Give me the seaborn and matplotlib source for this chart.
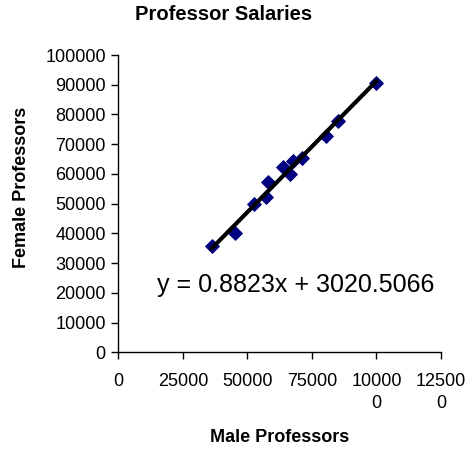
import matplotlib
matplotlib.use("Agg")
import matplotlib.pyplot as plt
import numpy as np
import pandas as pd
import seaborn as sns

# Salary pairs (male, female)
male = [36100, 45200, 52600, 57400, 58000, 63900, 66400, 67700, 71000, 80400, 85100, 100000]
female = [35600, 40100, 49800, 52400, 57400, 62200, 59900, 64200, 65500, 72600, 77900, 90600]

# Linear trendline
slope = 0.8823
intercept = 3020.5066

x_ticks = [0, 25000, 50000, 75000, 100000, 125000]
x_tick_labels = ["0", "25000", "50000", "75000", "10000\n0", "12500\n0"]
y_ticks = list(range(0, 100001, 10000))

sns.set_style("white")
plt.rcParams["font.family"] = ["Liberation Sans", "DejaVu Sans"]
plt.rcParams["text.color"] = "black"
plt.rcParams["xtick.color"] = "black"
plt.rcParams["ytick.color"] = "black"

fig = plt.figure(figsize=(4.74, 4.49), dpi=100)
ax = fig.add_axes([0.2496, 0.2154, 0.6808, 0.6621])

df = pd.DataFrame({"male": male, "female": female})
line_x = np.array([min(male), max(male)])
line_df = pd.DataFrame({"x": line_x, "y": slope * line_x + intercept})

sns.scatterplot(data=df, x="male", y="female", ax=ax, marker="D", s=48,
                color="#000080", edgecolor="#000080", linewidth=0.8, zorder=2)
sns.lineplot(data=line_df, x="x", y="y", ax=ax, color="black", linewidth=3,
             zorder=3)

ax.set_xlim(0, 125000)
ax.set_ylim(0, 100000)
ax.set_xticks(x_ticks)
ax.set_xticklabels(x_tick_labels, fontsize=13, linespacing=1.4,
                   color="black")
ax.set_yticks(y_ticks)
ax.set_yticklabels([str(v) for v in y_ticks], fontsize=13, color="black")
ax.tick_params(axis="both", direction="out", length=5, width=1, color="black",
               bottom=True, left=True)
ax.tick_params(axis="x", pad=10)
ax.tick_params(axis="y", pad=4)
for side in ["top", "right"]:
    ax.spines[side].set_visible(False)
for side in ["left", "bottom"]:
    ax.spines[side].set_color("black")
    ax.spines[side].set_linewidth(1)
ax.set_xlabel("")
ax.set_ylabel("")

ax.text(15000, 22700, f"y = {slope}x + {intercept}", fontsize=18,
        ha="left", va="center", color="black")

fig.text(224 / 474, 1 - 14 / 449, "Professor Salaries", fontsize=14.5,
         fontweight="bold", ha="center", va="center", color="black")
fig.text(280 / 474, 1 - 437 / 449, "Male Professors", fontsize=13,
         fontweight="bold", ha="center", va="center", color="black")
fig.text(22 / 474, 1 - 187 / 449, "Female Professors", fontsize=13,
         fontweight="bold", ha="center", va="center", rotation=90,
         color="black")

fig.savefig("out.png", dpi=100)
